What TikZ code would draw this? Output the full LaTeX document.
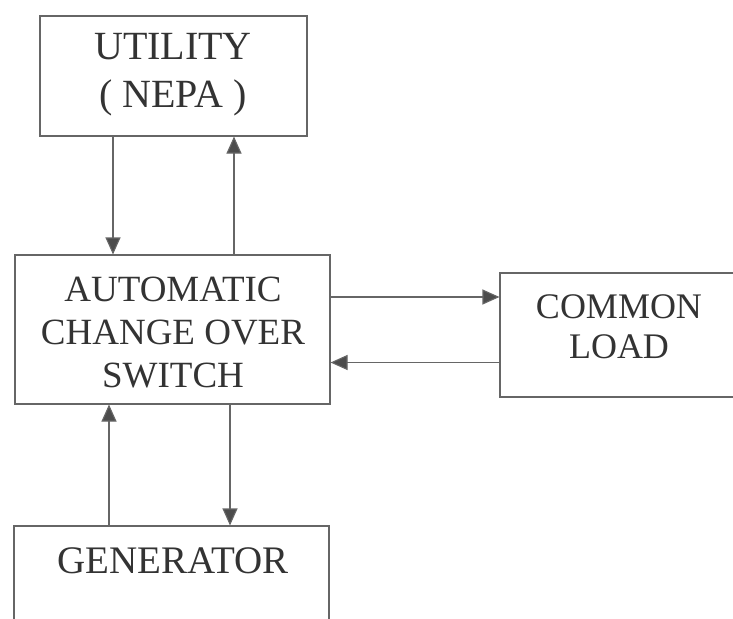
\documentclass[tikz,border=0pt]{standalone}
\usepackage{fontspec}
\setmainfont{Liberation Serif}
\usetikzlibrary{arrows.meta}
\begin{document}
\begin{tikzpicture}[x=1pt,y=1pt,
  block/.style={draw=black!60, line width=1.1pt, rectangle, inner sep=0pt},
  caption/.style={text=black!80, inner sep=0pt, align=center},
  flow/.style={draw=black!60, line width=1.1pt,
    -{Triangle[width=15pt,length=17pt,fill=black!70]}}]
\clip (0,0) rectangle (733,-618);
\fill[white] (0,0) rectangle (733,-618);

% blocks
\node[block, minimum width=267pt, minimum height=120pt] (util) at (173.5,-76) {};
\node[block, minimum width=315pt, minimum height=149pt] (acs) at (172.5,-329.5) {};
\node[block, minimum width=250pt, minimum height=124pt] (load) at (625,-335) {};
\node[block, minimum width=315pt, minimum height=130pt] (gen) at (171.5,-591) {};

% block texts
\node[caption, font=\fontsize{40}{48}\selectfont] (utiltxt) at (173,-75) {UTILITY\\( NEPA )};
\node[caption, font=\fontsize{37}{43}\selectfont] (acstxt) at (173,-333) {AUTOMATIC\\CHANGE OVER\\SWITCH};
\node[caption, font=\fontsize{36}{40}\selectfont] (loadtxt) at (619,-327) {COMMON\\LOAD};
\node[caption, font=\fontsize{39}{40}\selectfont, anchor=base] (gentxt) at (173,-573) {GENERATOR};

% connectors
\draw[flow] ([xshift=-60.5pt]util.south) -- ([xshift=-60.5pt]util.south |- acs.north);
\draw[flow] ([xshift=61.5pt]acs.north) -- ([xshift=61.5pt]acs.north |- util.south);
\draw[flow] ([yshift=32.5pt]acs.east) -- ([yshift=32.5pt]acs.east -| load.west);
\draw[flow] ([yshift=-27.5pt]load.west) -- ([yshift=-27.5pt]load.west -| acs.east);
\draw[flow] ([xshift=-62.5pt]gen.north) -- ([xshift=-62.5pt]gen.north |- acs.south);
\draw[flow] ([xshift=57.5pt]acs.south) -- ([xshift=57.5pt]acs.south |- gen.north);
\end{tikzpicture}
\end{document}
